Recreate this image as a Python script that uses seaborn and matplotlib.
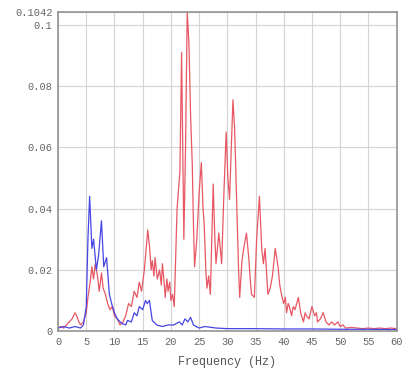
import numpy as np
import pandas as pd
import matplotlib
matplotlib.use("Agg")
import matplotlib.pyplot as plt
from matplotlib.ticker import MultipleLocator
import seaborn as sns

# Amplitude spectra (Hz vs amplitude) of the two records
red_freq = [0, 0.5, 1, 1.5, 2, 2.5, 3, 3.3, 3.7, 4, 4.5, 5, 5.3, 5.7, 6, 6.3, 6.6, 7,
            7.3, 7.7, 8, 8.4, 8.8, 9.2, 9.6, 10, 10.5, 11, 11.5, 12, 12.5, 13, 13.5,
            14, 14.4, 14.8, 15.3, 15.9, 16.2, 16.5, 16.7, 17.0, 17.2, 17.6, 18,
            18.3, 18.5, 18.8, 19, 19.3, 19.5, 19.8, 20, 20.3, 20.6, 21.1, 21.6,
            21.9, 22.1, 22.3, 22.6, 22.9, 23.2, 23.5, 23.8, 24.0, 24.2, 24.6, 25,
            25.4, 25.7, 25.9, 26.2, 26.4, 26.7, 27, 27.5, 27.8, 28, 28.5, 28.8, 29,
            29.4, 29.8, 30.1, 30.4, 31, 31.3, 31.7, 32.0, 32.2, 32.6, 33, 33.4,
            33.8, 34.1, 34.3, 34.8, 35.2, 35.7, 36.1, 36.4, 36.7, 37.0, 37.2, 37.6,
            38, 38.5, 39, 39.3, 39.6, 40, 40.3, 40.5, 40.8, 41, 41.4, 41.7, 42,
            42.6, 43, 43.5, 43.8, 44, 44.5, 45, 45.5, 45.8, 46, 46.5, 47, 47.5, 48,
            48.5, 49, 49.6, 50, 50.5, 51, 52, 53, 54, 55, 56, 57, 58, 59, 60]
red_amp = [0.001, 0.0015, 0.001, 0.002, 0.003, 0.004, 0.006, 0.005, 0.003, 0.002,
           0.003, 0.006, 0.011, 0.016, 0.021, 0.017, 0.022, 0.018, 0.013, 0.019,
           0.014, 0.012, 0.009, 0.007, 0.008, 0.005, 0.004, 0.002, 0.003, 0.005,
           0.009, 0.008, 0.013, 0.011, 0.016, 0.013, 0.020, 0.033, 0.028, 0.020,
           0.023, 0.018, 0.024, 0.017, 0.020, 0.015, 0.022, 0.016, 0.011, 0.017,
           0.013, 0.016, 0.010, 0.012, 0.008, 0.040, 0.052, 0.091, 0.060, 0.030,
           0.060, 0.1042, 0.094, 0.070, 0.054, 0.035, 0.021, 0.030, 0.045, 0.055,
           0.040, 0.035, 0.020, 0.014, 0.018, 0.012, 0.048, 0.030, 0.022, 0.032,
           0.026, 0.022, 0.045, 0.065, 0.050, 0.043, 0.0755, 0.066, 0.040, 0.020,
           0.011, 0.023, 0.028, 0.032, 0.024, 0.016, 0.012, 0.011, 0.030, 0.044,
           0.027, 0.022, 0.027, 0.018, 0.012, 0.014, 0.018, 0.027, 0.021, 0.015,
           0.012, 0.009, 0.011, 0.006, 0.009, 0.008, 0.005, 0.008, 0.007, 0.011,
           0.006, 0.003, 0.006, 0.005, 0.004, 0.008, 0.005, 0.006, 0.003, 0.004,
           0.006, 0.003, 0.002, 0.003, 0.002, 0.003, 0.0015, 0.002, 0.001, 0.0012,
           0.001, 0.0008, 0.001, 0.0008, 0.001, 0.0008, 0.001, 0.0008]

blue_freq = [0, 1, 2, 3, 4, 4.5, 5, 5.3, 5.6, 6, 6.3, 6.8, 7.2, 7.7, 8.1, 8.6, 9.1,
             9.5, 10, 10.5, 11.3, 12, 12.3, 13, 13.5, 14, 14.4, 15, 15.5, 15.8,
             16.2, 16.7, 17.5, 18.5, 19.5, 20.5, 21.5, 22, 22.5, 23, 23.5, 24, 25,
             26, 28, 30, 35, 40, 45, 50, 55, 60]
blue_amp = [0.001, 0.0015, 0.001, 0.0015, 0.001, 0.002, 0.008, 0.030, 0.044, 0.027,
            0.030, 0.020, 0.025, 0.036, 0.021, 0.024, 0.012, 0.009, 0.006, 0.004,
            0.0025, 0.002, 0.0035, 0.003, 0.006, 0.005, 0.008, 0.007, 0.010, 0.009,
            0.010, 0.0035, 0.002, 0.0015, 0.002, 0.002, 0.003, 0.002, 0.004, 0.003,
            0.0045, 0.002, 0.001, 0.0015, 0.001, 0.0008, 0.0008, 0.0007, 0.0007,
            0.0006, 0.0006, 0.0005]

y_ticks = [0, 0.02, 0.04, 0.06, 0.08, 0.1, 0.1042]
y_tick_labels = ["0", "0.02", "0.04", "0.06", "0.08", "0.1", "0.1042"]
x_ticks = list(range(0, 61, 5))

red_df = pd.DataFrame({"freq": red_freq, "amp": red_amp})
blue_df = pd.DataFrame({"freq": blue_freq, "amp": blue_amp})

sns.set_style("white")
plt.rcParams["font.family"] = ["Liberation Mono", "DejaVu Sans Mono"]

fig = plt.figure(figsize=(4.03, 3.85), dpi=100)
ax = fig.add_axes([0.144, 0.140, 0.840, 0.829])

sns.lineplot(data=red_df, x="freq", y="amp", ax=ax, color="#e85864",
             linewidth=0.9, estimator=None, sort=False)
sns.lineplot(data=blue_df, x="freq", y="amp", ax=ax, color="#4646e6",
             linewidth=0.9, estimator=None, sort=False)

ax.set_xlim(0, 60)
ax.set_ylim(0, 0.1042)
ax.set_xticks(x_ticks)
ax.set_xticklabels([str(t) for t in x_ticks])
ax.set_yticks(y_ticks)
ax.set_yticklabels(y_tick_labels)
ax.xaxis.set_minor_locator(MultipleLocator(1))
ax.yaxis.set_minor_locator(MultipleLocator(0.004))

ax.grid(True, which="major", color="#d4d4d4", linewidth=0.8)
ax.set_axisbelow(True)
ax.tick_params(which="both", direction="in", colors="#7a7a7a",
               labelcolor="#666666", labelsize=7.5, width=0.8)
ax.tick_params(which="major", length=4, pad=4)
ax.tick_params(which="minor", length=2.5)

for side in ["left", "bottom", "right", "top"]:
    ax.spines[side].set_color("#8c8c8c")
    ax.spines[side].set_linewidth(1.1)

ax.set_xlabel("Frequency (Hz)", fontsize=8.5, color="#555555", labelpad=7)
ax.set_ylabel("")

fig.savefig("out.png", dpi=100, facecolor="white")
